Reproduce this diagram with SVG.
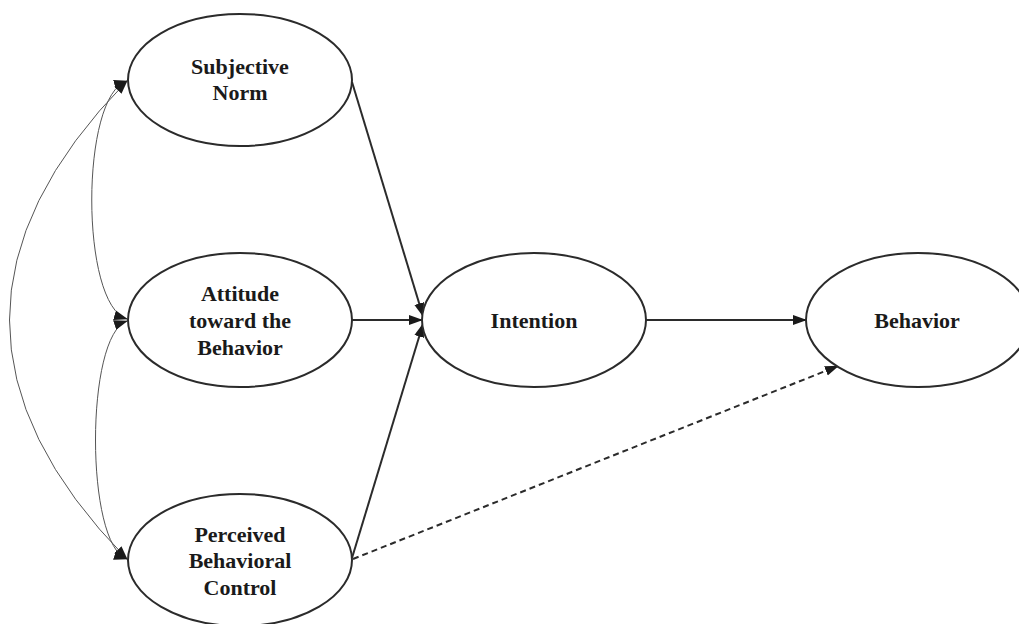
<svg xmlns="http://www.w3.org/2000/svg" width="1019" height="624" viewBox="0 0 1019 624">
<style>
.node ellipse{fill:#fff;stroke:#2b2b2b;stroke-width:2}
.node text{font-family:"Liberation Serif","Times New Roman",serif;font-weight:bold;font-size:22px;fill:#1a1a1a;text-anchor:middle}
.main{fill:none;stroke:#2b2b2b;stroke-width:2}
.dash{fill:none;stroke:#2b2b2b;stroke-width:2;stroke-dasharray:6,4}
.cov{fill:none;stroke:#555;stroke-width:1}
</style>
<defs>
<marker id="ah" markerUnits="userSpaceOnUse" markerWidth="14" markerHeight="12" refX="13" refY="6" orient="auto-start-reverse">
<path d="M0,1 L14,6 L0,11 Z" fill="#1a1a1a"/>
</marker>
</defs>
<rect width="1019" height="624" fill="#fff"/>
<g id="connectors">
<path class="cov" d="M127,81 Q-108,320 127,559" marker-start="url(#ah)" marker-end="url(#ah)"/>
<path class="cov" d="M127,81 C80,95 80,305 127,319" marker-start="url(#ah)" marker-end="url(#ah)"/>
<path class="cov" d="M127,321 C85,335 85,545 127,559" marker-start="url(#ah)" marker-end="url(#ah)"/>
<path class="main" d="M352,82 L423,316" marker-end="url(#ah)"/>
<path class="main" d="M352,320 L422,320" marker-end="url(#ah)"/>
<path class="main" d="M352,558 L423,324" marker-end="url(#ah)"/>
<path class="main" d="M646,320 L806,320" marker-end="url(#ah)"/>
<path class="dash" d="M353,559 L838,366" marker-end="url(#ah)"/>
</g>
<g id="subjective-norm" class="node">
<ellipse cx="240" cy="80" rx="112" ry="66"/>
<text x="240" y="74">Subjective</text>
<text x="240" y="100">Norm</text>
</g>
<g id="attitude" class="node">
<ellipse cx="240" cy="320" rx="112" ry="67"/>
<text x="240" y="301">Attitude</text>
<text x="240" y="328">toward the</text>
<text x="240" y="355">Behavior</text>
</g>
<g id="pbc" class="node">
<ellipse cx="240" cy="560" rx="112" ry="66"/>
<text x="240" y="542">Perceived</text>
<text x="240" y="568">Behavioral</text>
<text x="240" y="595">Control</text>
</g>
<g id="intention" class="node">
<ellipse cx="534" cy="320" rx="112" ry="67"/>
<text x="534" y="328">Intention</text>
</g>
<g id="behavior" class="node">
<ellipse cx="918" cy="320" rx="112" ry="67"/>
<text x="917" y="328">Behavior</text>
</g>
</svg>
